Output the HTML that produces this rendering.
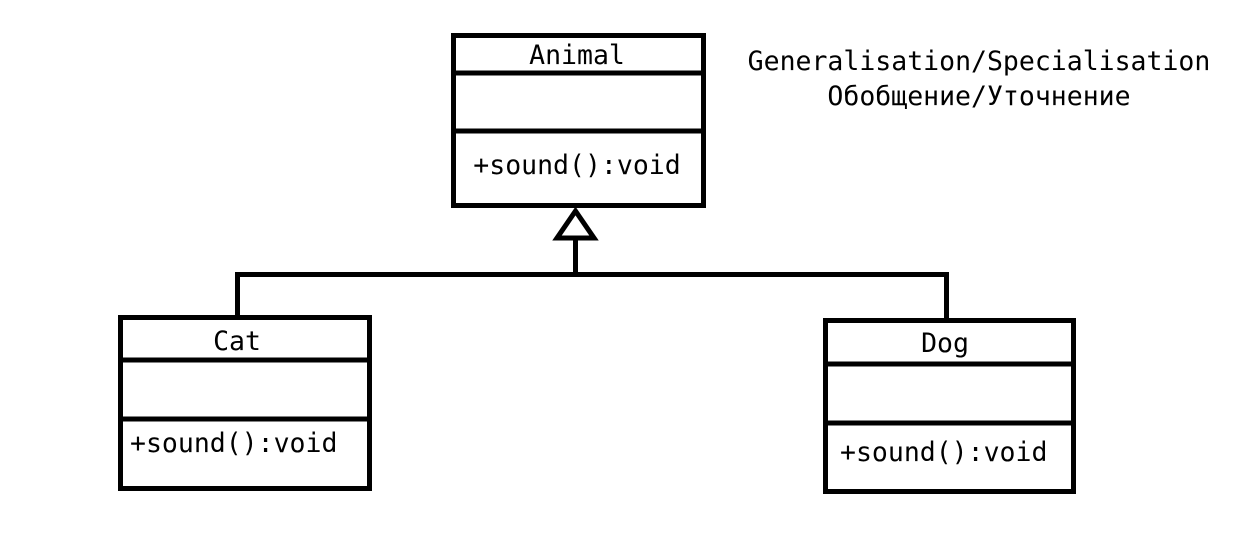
<!DOCTYPE html>
<html><head><meta charset="utf-8"><style>
html,body{margin:0;padding:0;background:#fff;}
svg{display:block;}
text{font-family:"DejaVu Sans Mono","Liberation Mono",monospace;font-size:26.5px;fill:#000;}
</style></head><body>
<svg width="1254" height="544" viewBox="0 0 1254 544" xmlns="http://www.w3.org/2000/svg">
<g fill="none" stroke="#000" stroke-width="5">
<rect x="453.5" y="35.5" width="250" height="170"/>
<line x1="453" y1="73" x2="704" y2="73"/>
<line x1="453" y1="131" x2="704" y2="131"/>
<rect x="120.5" y="317.5" width="249" height="171"/>
<line x1="120" y1="360" x2="370" y2="360"/>
<line x1="120" y1="419" x2="370" y2="419"/>
<rect x="825.5" y="320.5" width="248" height="171"/>
<line x1="825" y1="364" x2="1074" y2="364"/>
<line x1="825" y1="423" x2="1074" y2="423"/>
<polyline points="237.5,317 237.5,274.5 946.5,274.5 946.5,320"/>
<line x1="575.5" y1="274" x2="575.5" y2="238"/>
<polygon points="575.5,211 557,238 594,238" fill="#fff"/>
</g>
<text x="577" y="64" text-anchor="middle">Animal</text>
<text x="577" y="174" text-anchor="middle">+sound():void</text>
<text x="237" y="350" text-anchor="middle">Cat</text>
<text x="130" y="452">+sound():void</text>
<text x="945" y="352" text-anchor="middle">Dog</text>
<text x="840" y="461">+sound():void</text>
<text x="979" y="70" text-anchor="middle">Generalisation/Specialisation</text>
<text x="979" y="105" text-anchor="middle">Обобщение/Уточнение</text>
</svg>
</body></html>
